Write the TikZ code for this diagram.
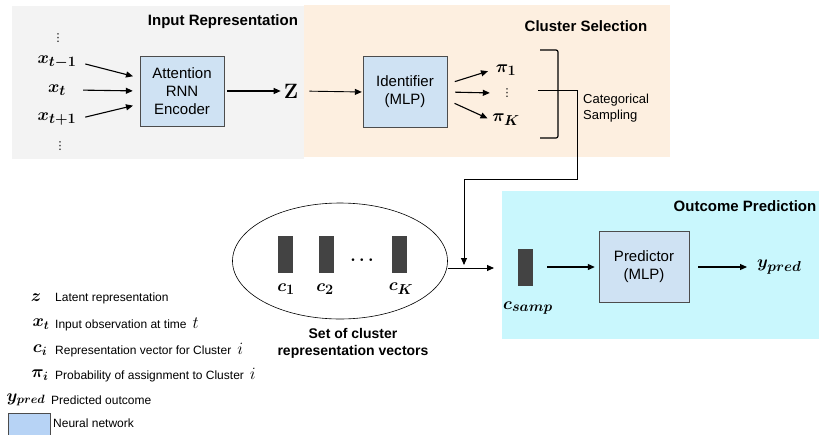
\documentclass[tikz,border=0pt]{standalone}
\usepackage[no-math]{fontspec}
\setmainfont{Liberation Sans}
\newfontfamily\dotsfont{DejaVu Sans}
\usepackage{bm}
\usetikzlibrary{arrows.meta,shapes.geometric}
\definecolor{inbg}{HTML}{F3F3F3}
\definecolor{selbg}{HTML}{FDEFE0}
\definecolor{predbg}{HTML}{C9F7FD}
\definecolor{nnfill}{HTML}{CFE2F3}
\definecolor{nnkey}{HTML}{B7D3F5}
\definecolor{vecfill}{HTML}{434343}
\tikzset{
  nn/.style={rectangle,draw=black!70,fill=nnfill,align=center,inner sep=0pt,font=\fontsize{15}{18}\selectfont},
  vec/.style={rectangle,fill=vecfill,minimum width=15pt,minimum height=37pt,inner sep=0pt},
  sym/.style={inner sep=1pt,font=\fontsize{19}{21}\selectfont},
  vd/.style={inner sep=0pt,font=\dotsfont\fontsize{11}{12}\selectfont},
  key/.style={inner sep=0pt,font=\fontsize{18}{20}\selectfont},
  keytext/.style={anchor=west,inner sep=0pt,font=\fontsize{12}{14}\selectfont},
  title/.style={inner sep=0pt,font=\bfseries\fontsize{15}{18}\selectfont},
  arr/.style={-{Triangle[length=7pt,width=6pt]},line width=1.1pt}
}

\begin{document}
\begin{tikzpicture}[x=1pt,y=-1pt]
\useasboundingbox (0,0) rectangle (819,434);
\fill[inbg] (12,6) rectangle (304,159);
\fill[selbg] (304,5) rectangle (670,157);
\fill[predbg] (502,191) rectangle (819,339);

\node[title] (tin) at (223,22) {Input Representation};
\node[title] (tsel) at (586,26) {Cluster Selection};
\node[title] (tpred) at (745,206) {Outcome Prediction};

\node[vd] (dtop) at (58,38) {⋮};
\node[sym,minimum width=36pt] (xm1) at (57,62) {$\bm{x_{t-1}}$};
\node[sym,minimum width=36pt] (x0) at (57,90) {$\bm{x_{t}}$};
\node[sym,minimum width=36pt] (xp1) at (57,119) {$\bm{x_{t+1}}$};
\node[vd] (dbot) at (60,146) {⋮};

\node[nn,minimum width=84pt,minimum height=70pt] (enc) at (182,91) {Attention\\RNN\\Encoder};
\draw[arr,shorten <=8pt,shorten >=7pt] (xm1.east) -- ([yshift=13pt]enc.west);
\draw[arr,shorten <=8pt,shorten >=7pt] (x0.east) -- (enc.west);
\draw[arr,shorten <=8pt,shorten >=7pt] (xp1.east) -- ([yshift=-13pt]enc.west);

\node[sym,font=\fontsize{21}{23}\selectfont] (z) at (291,91) {$\mathbf{Z}$};
\draw[arr,shorten <=3pt,shorten >=2pt] (enc.east) -- (z.west);

\node[nn,minimum width=84pt,minimum height=71pt] (ident) at (405,92) {Identifier\\(MLP)};
\draw[arr,line width=0.9pt,shorten <=10pt,shorten >=1pt] (z.east) -- (ident.west);

\node[sym,minimum width=28pt] (pi1) at (506,70) {$\bm{\pi_1}$};
\node[vd,minimum width=28pt] (pidots) at (507,93) {⋮};
\node[sym,minimum width=28pt] (piK) at (506,120) {$\bm{\pi_K}$};
\draw[arr,shorten <=8pt,shorten >=4pt] ([yshift=8pt]ident.east) -- (pi1.west);
\draw[arr,shorten <=8pt,shorten >=3pt] (ident.east) -- (pidots.west);
\draw[arr,shorten <=8pt,shorten >=4pt] ([yshift=-8pt]ident.east) -- (piK.west);

\draw[line width=1.2pt,rounded corners=2pt] (540,50) -- (558,50) -- (558,138) -- (540,138);
\node[keytext,font=\fontsize{13}{16}\selectfont,align=left] (cat) at (583,108) {Categorical\\Sampling};

\node[ellipse,draw,line width=0.6pt,minimum width=215pt,minimum height=116pt] (pool) at (340,261) {};
\node[vec] (c1) at (285.5,254.5) {};
\node[vec] (c2) at (326,254.5) {};
\node[vec] (cK) at (399.5,254.5) {};
\node[sym] (cdots) at (362,260) {$\bm{\cdots}$};
\node[sym] (lc1) at (286,289) {$\bm{c_1}$};
\node[sym] (lc2) at (325,289) {$\bm{c_2}$};
\node[sym] (lcK) at (401,289) {$\bm{c_K}$};
\node[title,font=\bfseries\fontsize{14}{17}\selectfont,align=center] (poolname) at (353,343) {Set of cluster\\representation vectors};

\coordinate (samp) at (538,90);
\coordinate (turn) at (577,179);
\coordinate (join) at (464,265);
\coordinate (into) at (494,268);
\draw[arr,line width=0.9pt] (samp) -| (turn) -| (join);
\draw[arr,line width=0.9pt] (pool.east |- into) -- (into);

\node[vec] (csamp) at (525.5,267) {};
\node[sym] (lcsamp) at (528,308) {$\bm{c_{samp}}$};
\node[nn,minimum width=90pt,minimum height=71pt] (pred) at (644,267) {Predictor\\(MLP)};
\draw[arr,shorten <=14pt,shorten >=4pt] (csamp.east) -- (pred.west);
\node[sym,anchor=west] (ypred) at (756,267) {$\bm{y_{pred}}$};
\draw[arr,shorten <=9pt,shorten >=9pt] (pred.east) -- (ypred.west);

\node[key] (kz) at (36,298) {$\bm{z}$};
\node[keytext] (tz) at (55,298) {Latent representation};
\node[key] (kx) at (41,324) {$\bm{x_t}$};
\node[keytext] (tx) at (55,324) {Input observation at time\hspace{6pt}{\fontsize{17}{17}\selectfont$t$}};
\node[key] (kc) at (40,350) {$\bm{c_i}$};
\node[keytext] (tc) at (55,350) {Representation vector for Cluster\hspace{6pt}{\fontsize{17}{17}\selectfont$i$}};
\node[key] (kpi) at (40,375) {$\bm{\pi_i}$};
\node[keytext] (tpi) at (55,375) {Probability of assignment to Cluster\hspace{6pt}{\fontsize{17}{17}\selectfont$i$}};
\node[key] (ky) at (26,400) {$\bm{y_{pred}}$};
\node[keytext] (ty) at (51,400) {Predicted outcome};
\node[rectangle,draw=black!70,fill=nnkey,minimum width=42pt,minimum height=22pt,inner sep=0pt] (knn) at (29,424) {};
\node[keytext] (tnn) at (53,423) {Neural network};
\end{tikzpicture}
\end{document}
